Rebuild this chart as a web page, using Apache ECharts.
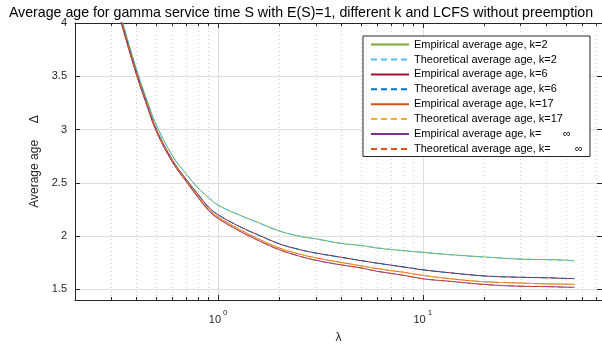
<!DOCTYPE html>
<html>
<head>
<meta charset="utf-8">
<script src="https://cdn.jsdelivr.net/npm/echarts@6/dist/echarts.min.js"></script>
<style>
  html, body { margin: 0; padding: 0; background: #fff; }
  #chart { width: 602px; height: 349px; }
</style>
</head>
<body>
<div id="chart"></div>
<script>
// arrival rate values (x)
const lambda = [0.3, 0.34, 0.4, 0.45, 0.5, 0.6, 0.7, 0.8, 0.9, 1, 1.28, 1.6, 2, 2.5, 3, 4, 5, 6, 8, 10, 13.5, 20, 30, 40, 50, 55];

// average age
const empK2   = [4.40, 4.02, 3.56, 3.27, 3.04, 2.75, 2.58, 2.45, 2.36, 2.29, 2.195, 2.121, 2.047, 1.998, 1.975, 1.930, 1.912, 1.887, 1.864, 1.846, 1.826, 1.804, 1.783, 1.779, 1.774, 1.768];
const thK2    = [4.40, 4.02, 3.56, 3.27, 3.04, 2.75, 2.58, 2.45, 2.36, 2.29, 2.195, 2.118, 2.045, 2.000, 1.972, 1.932, 1.910, 1.890, 1.862, 1.848, 1.825, 1.802, 1.786, 1.778, 1.772, 1.767];
const empK6   = [4.36, 3.99, 3.53, 3.24, 3.00, 2.71, 2.53, 2.39, 2.27, 2.20, 2.088, 2.004, 1.926, 1.873, 1.841, 1.801, 1.769, 1.746, 1.711, 1.683, 1.656, 1.626, 1.613, 1.609, 1.602, 1.601];
const thK6    = [4.36, 3.99, 3.53, 3.24, 3.00, 2.71, 2.53, 2.39, 2.27, 2.20, 2.087, 2.003, 1.925, 1.874, 1.840, 1.800, 1.770, 1.745, 1.710, 1.684, 1.655, 1.625, 1.614, 1.608, 1.603, 1.601];
const empK17  = [4.35, 3.98, 3.52, 3.23, 2.99, 2.70, 2.52, 2.37, 2.25, 2.18, 2.060, 1.967, 1.886, 1.831, 1.796, 1.752, 1.721, 1.694, 1.661, 1.631, 1.601, 1.571, 1.559, 1.551, 1.549, 1.547];
const thK17   = [4.35, 3.98, 3.52, 3.23, 2.99, 2.70, 2.52, 2.37, 2.25, 2.18, 2.059, 1.966, 1.885, 1.832, 1.795, 1.753, 1.720, 1.695, 1.660, 1.632, 1.600, 1.572, 1.558, 1.552, 1.548, 1.547];
const empKinf = [4.34, 3.97, 3.51, 3.22, 2.98, 2.69, 2.51, 2.36, 2.24, 2.165, 2.045, 1.952, 1.871, 1.811, 1.773, 1.729, 1.701, 1.669, 1.633, 1.599, 1.576, 1.546, 1.529, 1.526, 1.520, 1.518];
const thKinf  = [4.34, 3.97, 3.51, 3.22, 2.98, 2.69, 2.51, 2.36, 2.24, 2.165, 2.044, 1.951, 1.870, 1.812, 1.772, 1.730, 1.700, 1.670, 1.632, 1.600, 1.575, 1.545, 1.530, 1.525, 1.521, 1.518];

// axis ticks
const xMajor = [1, 10];
const xMinor = [0.3, 0.4, 0.5, 0.6, 0.7, 0.8, 0.9, 2, 3, 4, 5, 6, 7, 8, 9, 20, 30, 40, 50, 60, 70];
const yTicks = [1.5, 2, 2.5, 3, 3.5, 4];

const seriesNames = [
  'Empirical average age, k=2',
  'Theoretical average age, k=2',
  'Empirical average age, k=6',
  'Theoretical average age, k=6',
  'Empirical average age, k=17',
  'Theoretical average age, k=17',
  'Empirical average age, k=       \u221e',
  'Theoretical average age, k=        \u221e'
];
const seriesData = [empK2, thK2, empK6, thK6, empK17, thK17, empKinf, thKinf];
const seriesColors = ['#77AC30', '#4DBEEE', '#A2142F', '#0072BD', '#D95319', '#EDB120', '#7E2F8E', '#D95319'];

const font = 'Liberation Sans, Arial, Helvetica, sans-serif';
const axisColor = '#262626';

const chart = echarts.init(document.getElementById('chart'));

const logX = (extra) => Object.assign({
  type: 'log',
  logBase: 10,
  min: 0.2,
  max: 75,
  gridIndex: 0,
  axisLine: { show: false },
  axisLabel: { show: false },
  splitLine: { show: false }
}, extra);

const valY = (extra) => Object.assign({
  type: 'value',
  min: 1.4,
  max: 4,
  gridIndex: 0,
  axisLabel: { show: false },
  splitLine: { show: false }
}, extra);

const option = {
  animation: false,
  backgroundColor: '#fff',
  title: {
    text: 'Average age for gamma service time S with E(S)=1, different k and LCFS without preemption',
    left: 'center',
    top: 1,
    textStyle: { fontFamily: font, fontSize: 14.2, fontWeight: 'normal', color: '#000' }
  },
  grid: { left: 75, top: 23, width: 527, height: 280 },
  legend: {
    orient: 'vertical',
    left: 363,
    top: 36,
    data: seriesNames,
    itemWidth: 38,
    itemHeight: 14,
    itemGap: 3.7,
    itemStyle: { opacity: 0 },
    padding: [3, 7, 2, 7],
    backgroundColor: '#fff',
    borderColor: axisColor,
    borderWidth: 1,
    textStyle: { fontFamily: font, fontSize: 11, color: '#000' }
  },
  xAxis: [
    logX({
      position: 'bottom',
      axisLine: { show: true, lineStyle: { color: axisColor, width: 1 } },
      axisTick: { show: true, inside: true, length: 5, customValues: xMajor, lineStyle: { color: axisColor } },
      axisLabel: {
        show: true,
        customValues: xMajor,
        margin: 9,
        formatter: (v) => '{b|10}{s|' + Math.round(Math.log10(v)) + '}',
        rich: {
          b: { fontFamily: font, fontSize: 11, color: axisColor, lineHeight: 16, verticalAlign: 'bottom' },
          s: { fontFamily: font, fontSize: 8, color: axisColor, lineHeight: 16, verticalAlign: 'top', padding: [0, 0, 0, 2] }
        }
      },
      splitLine: { show: true, lineStyle: { color: '#dedede', width: 1 } },
      name: '\u03bb',
      nameLocation: 'middle',
      nameGap: 32,
      nameTextStyle: { fontFamily: font, fontSize: 12, color: axisColor }
    }),
    logX({
      position: 'bottom',
      axisTick: { show: true, inside: true, length: 3, customValues: xMinor, lineStyle: { color: axisColor } },
      splitLine: { show: true, lineStyle: { color: '#cfcfcf', width: 1, type: [1, 3] } }
    }),
    logX({
      position: 'top',
      axisLine: { show: true, lineStyle: { color: axisColor, width: 1 } },
      axisTick: { show: true, inside: true, length: 5, customValues: xMajor, lineStyle: { color: axisColor } }
    }),
    logX({
      position: 'top',
      axisTick: { show: true, inside: true, length: 3, customValues: xMinor, lineStyle: { color: axisColor } }
    })
  ],
  yAxis: [
    valY({
      position: 'left',
      axisLine: { show: true, lineStyle: { color: axisColor, width: 1 } },
      axisTick: { show: true, inside: true, length: 5, customValues: yTicks, lineStyle: { color: axisColor } },
      axisLabel: { show: true, customValues: yTicks, margin: 8, fontFamily: font, fontSize: 11, color: axisColor },
      splitLine: { show: true, lineStyle: { color: '#dedede', width: 1 } },
      name: 'Average age     \u0394',
      nameLocation: 'middle',
      nameGap: 29,
      nameTextStyle: { fontFamily: font, fontSize: 12, color: axisColor }
    }),
    valY({
      position: 'right',
      axisLine: { show: true, lineStyle: { color: axisColor, width: 1 } },
      axisTick: { show: true, inside: true, length: 5, customValues: yTicks, lineStyle: { color: axisColor } }
    })
  ],
  series: seriesNames.map((name, i) => ({
    name: name,
    type: 'line',
    xAxisIndex: 0,
    yAxisIndex: 0,
    data: lambda.map((x, j) => [x, seriesData[i][j]]),
    symbol: 'none',
    smooth: 0.4,
    clip: true,
    color: seriesColors[i],
    lineStyle: { color: seriesColors[i], width: 1, type: i % 2 === 1 ? [6, 4] : 'solid' }
  }))
};

chart.setOption(option);
</script>
</body>
</html>
